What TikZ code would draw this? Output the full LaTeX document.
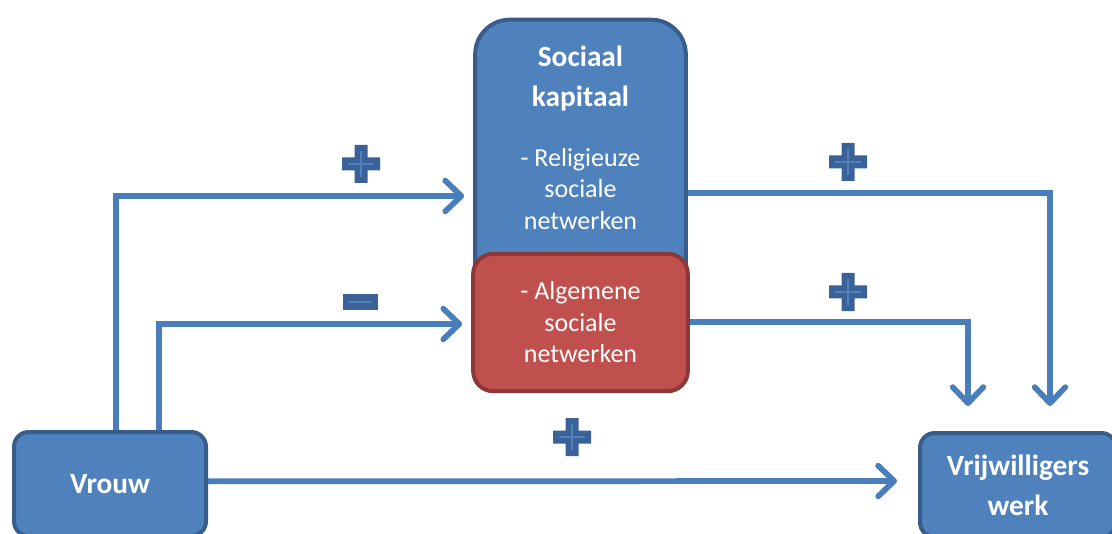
\documentclass[tikz,border=0pt]{standalone}
\usepackage{fontspec}
\setmainfont{Carlito}
\usetikzlibrary{arrows.meta,positioning,calc}
\definecolor{boxblue}{RGB}{79,129,189}
\definecolor{edgeblue}{RGB}{56,93,138}
\definecolor{boxred}{RGB}{192,80,77}
\definecolor{edgered}{RGB}{140,56,54}
\definecolor{linkblue}{RGB}{74,126,187}
\definecolor{signdark}{RGB}{58,98,153}
\tikzset{
    block/.style={
        rectangle,
        rounded corners=11pt,
        line width=3pt,
        draw=edgeblue,
        fill=boxblue,
        text=white,
        align=center,
        inner sep=0pt,
        font=\fontsize{22}{30}\selectfont\bfseries,
    },
    redblock/.style={
        block,
        draw=edgered,
        fill=boxred,
        rounded corners=15pt,
        font=\fontsize{19.5}{23.6}\selectfont,
    },
    title/.style={
        text=white,
        align=center,
        inner sep=0pt,
        font=\fontsize{22}{30}\selectfont\bfseries,
    },
    label/.style={
        text=white,
        align=center,
        inner sep=0pt,
        font=\fontsize{19.5}{23.6}\selectfont,
    },
    link/.style={
        draw=linkblue,
        line width=4.3pt,
        -{Straight Barb[round,length=12pt,width=23pt]},
    },
    sign/.style={
        fill=signdark,
        draw=none,
    },
    signline/.style={
        draw=boxblue,
        line width=2.2pt,
    },
}
% plus and minus marks, centred at a pixel coordinate
\newcommand{\plusmark}[1]{%
    \begin{scope}[shift={(#1)}]
        \path[sign] (-6.5,-19) -- (6.5,-19) -- (6.5,-6.5) -- (19,-6.5) -- (19,6.5)
            -- (6.5,6.5) -- (6.5,19) -- (-6.5,19) -- (-6.5,6.5) -- (-19,6.5)
            -- (-19,-6.5) -- (-6.5,-6.5) -- cycle;
        \draw[signline] (-13,0) -- (13,0) (0,-13) -- (0,13);
    \end{scope}}
\newcommand{\minusmark}[1]{%
    \begin{scope}[shift={(#1)}]
        \path[sign] (-17.5,-7.5) rectangle (17.5,7.5);
        \draw[signline] (-12,0) -- (12,0);
    \end{scope}}

\begin{document}
\begin{tikzpicture}[x=0.75pt,y=-0.75pt]
    \clip (0,0) rectangle (1112,534);

    % Nodes
    \node[block, minimum width=158pt, minimum height=233pt, rounded corners=26pt] (soc) at (580.5,175) {};
    \node[title] (soctitle) at (580.5,79) {Sociaal\\kapitaal};
    \node[label] (socnet) at (580.5,189) {- Religieuze\\sociale\\netwerken};
    \node[redblock, minimum width=161pt, minimum height=103pt] (alg) at (580.5,322.5)
        {- Algemene\\sociale\\netwerken};
    \node[block, minimum width=144pt, minimum height=78pt] (vrouw) at (110,484) {Vrouw};
    \node[block, minimum width=147pt, minimum height=78pt] (vrijw) at (1018,485)
        {Vrijwilligers\\werk};

    % Connectors
    \draw[link, shorten >=6.75pt] ([xshift=4.5pt]vrouw.north) |- (soc.west |- 0,196);
    \draw[link, shorten >=6.75pt] ([xshift=36.75pt]vrouw.north) |- (alg.west |- 0,324);
    \draw[link, shorten >=15.75pt] ([yshift=2pt]vrouw.east) -- (vrijw.west |- 0,481);
    \draw[link, shorten >=18.75pt] (soc.east |- 0,193) -| ([xshift=24pt]vrijw.north);
    \draw[link, shorten >=18.75pt] (alg.east |- 0,322) -| ([xshift=-37.5pt]vrijw.north);

    % Signs
    \plusmark{361,164}
    \minusmark{360,302}
    \plusmark{848,162}
    \plusmark{848,292}
    \plusmark{572,437}
\end{tikzpicture}
\end{document}
